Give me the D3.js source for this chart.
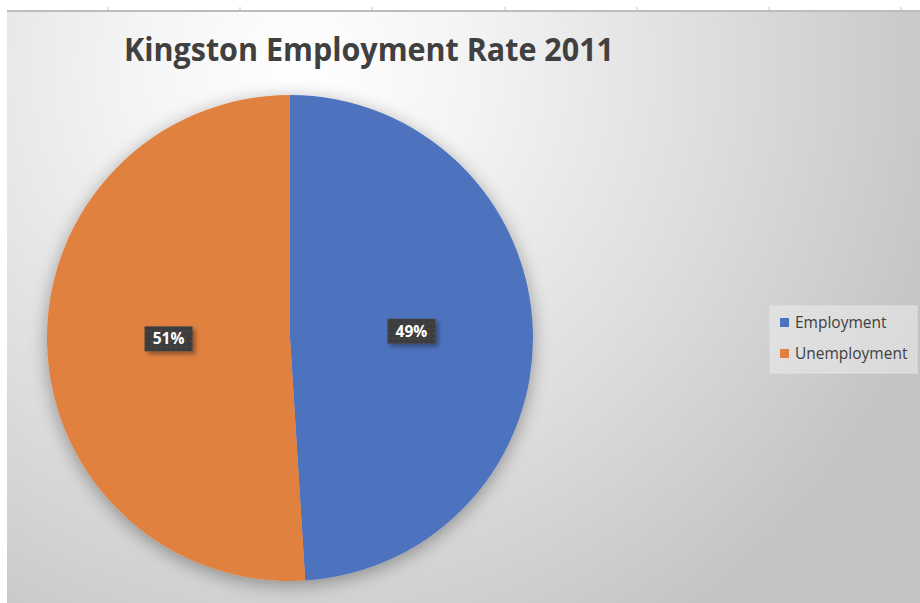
<!DOCTYPE html>
<html>
<head>
<meta charset="utf-8">
<script src="https://cdn.jsdelivr.net/npm/d3@7"></script>
<style>
  html, body { margin: 0; padding: 0; background: #ffffff; }
  svg { display: block; }
</style>
</head>
<body>
<div id="chart"></div>
<script>
// Kingston employment split, 2011
const categories = ["Employment", "Unemployment"];
const values = [49, 51];
const sliceColors = ["#4e73be", "#e0813f"];
const titleText = "Kingston Employment Rate 2011";
// column marks along the sheet strip above the chart
const rulerMarks = [108, 240, 372, 505, 637, 769, 901];

const W = 920, H = 603;
const svg = d3.select("#chart").append("svg")
  .attr("width", W).attr("height", H);

const defs = svg.append("defs");

const bg = defs.append("radialGradient")
  .attr("id", "bgGrad")
  .attr("gradientUnits", "userSpaceOnUse")
  .attr("cx", 300).attr("cy", 70).attr("r", 680);
[[0, "#ffffff"], [0.25, "#f4f4f4"], [0.6, "#dedede"], [1, "#c3c3c3"]]
  .forEach(([o, c]) => bg.append("stop").attr("offset", o).attr("stop-color", c));

const pieShadow = defs.append("filter").attr("id", "pieShadow")
  .attr("x", "-20%").attr("y", "-20%").attr("width", "140%").attr("height", "140%");
pieShadow.append("feDropShadow")
  .attr("dx", 0).attr("dy", 4).attr("stdDeviation", 9)
  .attr("flood-color", "#000").attr("flood-opacity", 0.35);

const boxShadow = defs.append("filter").attr("id", "boxShadow")
  .attr("x", "-30%").attr("y", "-30%").attr("width", "170%").attr("height", "170%");
boxShadow.append("feDropShadow")
  .attr("dx", 3).attr("dy", 3).attr("stdDeviation", 2)
  .attr("flood-color", "#000").attr("flood-opacity", 0.35);

// dotted texture on the label boxes
const dots = defs.append("pattern").attr("id", "dots")
  .attr("width", 5).attr("height", 5).attr("patternUnits", "userSpaceOnUse");
dots.append("rect").attr("width", 5).attr("height", 5).attr("fill", "#3c3c3c");
dots.append("circle").attr("cx", 2.5).attr("cy", 2.5).attr("r", 0.8).attr("fill", "#575757");

// chart area
const area = { x: 7, y: 11, w: W - 7, h: H - 11 };
svg.append("rect")
  .attr("x", area.x).attr("y", area.y).attr("width", area.w).attr("height", area.h)
  .attr("fill", "url(#bgGrad)");
svg.append("line")
  .attr("x1", area.x).attr("x2", W).attr("y1", 11).attr("y2", 11)
  .attr("stroke", "#bdbdbd").attr("stroke-width", 2);
svg.selectAll("line.mark").data(rulerMarks).join("line")
  .attr("class", "mark")
  .attr("x1", d => d).attr("x2", d => d)
  .attr("y1", 7).attr("y2", 10)
  .attr("stroke", "#c8c8c8").attr("stroke-width", 1);

// title
svg.append("text")
  .attr("x", 124).attr("y", 61)
  .attr("font-family", "'Open Sans', 'Noto Sans', sans-serif")
  .attr("font-weight", 700)
  .attr("font-size", 32)
  .attr("fill", "#404040")
  .attr("textLength", 490)
  .attr("lengthAdjust", "spacingAndGlyphs")
  .text(titleText);

// pie
const cx = 290, cy = 338, R = 243;
const pie = d3.pie().sort(null).value(d => d)(values);
const arc = d3.arc().innerRadius(0).outerRadius(R);
const labelArc = d3.arc().innerRadius(R * 0.5).outerRadius(R * 0.5);

const g = svg.append("g").attr("transform", `translate(${cx},${cy})`);
g.append("g").attr("filter", "url(#pieShadow)")
  .selectAll("path").data(pie).join("path")
  .attr("d", arc)
  .attr("fill", (d, i) => sliceColors[i]);

const labels = g.selectAll("g.lbl").data(pie).join("g")
  .attr("class", "lbl")
  .attr("transform", d => {
    const [x, y] = labelArc.centroid(d);
    return `translate(${x},${y - 3})`;
  });
labels.append("rect")
  .attr("x", -24).attr("y", -12.5).attr("width", 48).attr("height", 25)
  .attr("fill", "url(#dots)")
  .attr("filter", "url(#boxShadow)");
labels.append("text")
  .attr("text-anchor", "middle")
  .attr("dy", "0.36em")
  .attr("font-family", "'Open Sans', 'Noto Sans', sans-serif")
  .attr("font-weight", 700)
  .attr("font-size", 15.5)
  .attr("fill", "#ffffff")
  .text(d => d.data + "%");

// legend
const legend = svg.append("g").attr("transform", "translate(770,306)");
legend.append("rect")
  .attr("width", 147).attr("height", 67)
  .attr("fill", "#ececec").attr("fill-opacity", 0.55)
  .attr("stroke", "#e2e2e2").attr("stroke-width", 1);
const items = legend.selectAll("g.item").data(categories).join("g")
  .attr("class", "item")
  .attr("transform", (d, i) => `translate(10,${16.5 + i * 31})`);
items.append("rect")
  .attr("x", 0).attr("y", -4.5).attr("width", 9).attr("height", 9)
  .attr("fill", (d, i) => sliceColors[i]);
items.append("text")
  .attr("x", 15).attr("dy", "0.35em")
  .attr("font-family", "'Open Sans', 'Noto Sans', sans-serif")
  .attr("font-size", 15.5)
  .attr("fill", "#404040")
  .text(d => d);
</script>
</body>
</html>
